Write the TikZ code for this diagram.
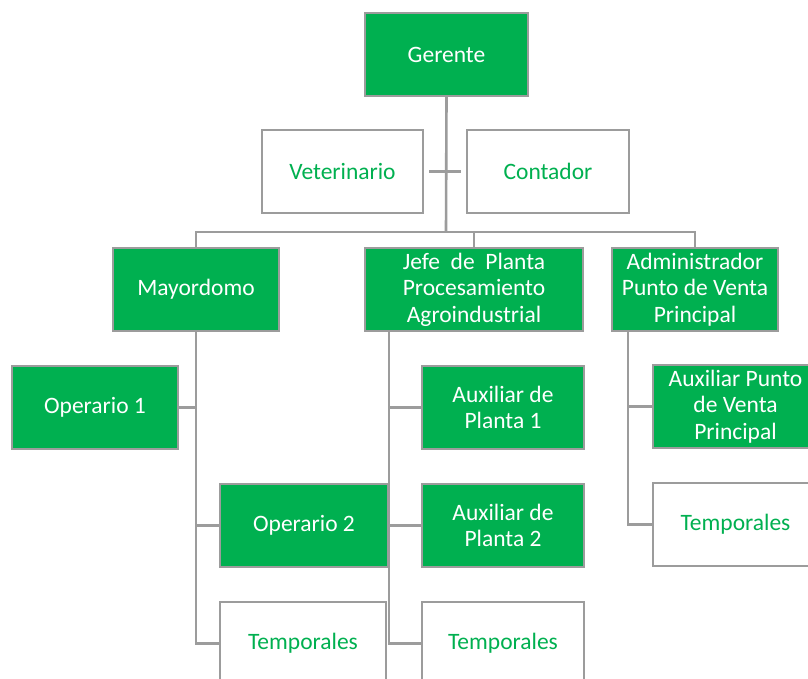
\documentclass[tikz,border=0pt]{standalone}
\usepackage{fontspec}
\setmainfont{Carlito}
\usetikzlibrary{calc}
\definecolor{orggreen}{HTML}{00B050}
\definecolor{orggray}{HTML}{9C9C9C}
\tikzset{
  unitbox/.style={draw=orggray, line width=2.4pt, inner sep=0pt, align=center,
    font=\fontsize{23.5}{26.5}\selectfont},
  greenbox/.style={unitbox, fill=orggreen, text=white},
  whitebox/.style={unitbox, fill=white, text=orggreen},
  link/.style={draw=orggray, line width=2.6pt},
}
\begin{document}
\begin{tikzpicture}[x=1pt,y=-1pt]
\clip (0,0) rectangle (808,679);
\fill[white] (0,0) rectangle (808,679);

% top level and staff positions
\node[greenbox, minimum width=163pt, minimum height=83pt] (ger) at (446.5,54.5) {Gerente};
\node[whitebox, minimum width=161pt, minimum height=83pt] (vet) at (342.5,171.5) {Veterinario};
\node[whitebox, minimum width=162pt, minimum height=83pt] (con) at (548,171.5) {Contador};

% second level
\node[greenbox, minimum width=166pt, minimum height=83pt] (may) at (196,289.5) {Mayordomo};
\node[greenbox, minimum width=218pt, minimum height=83pt] (jef) at (474,289.5) {Jefe\ \ de\ \ Planta\\Procesamiento\\Agroindustrial};
\node[greenbox, minimum width=166pt, minimum height=83pt] (adm) at (695,289.5) {Administrador\\Punto de Venta\\Principal};

% under Mayordomo
\node[greenbox, minimum width=166pt, minimum height=83pt] (op1) at (95,407.5) {Operario 1};
\node[greenbox, minimum width=168pt, minimum height=83pt] (op2) at (304,525.5) {Operario 2};
\node[whitebox, minimum width=166pt, minimum height=83pt] (tm1) at (303,643.5) {Temporales};

% under Jefe de Planta
\node[greenbox, minimum width=162pt, minimum height=83pt] (ax1) at (503,407.5) {Auxiliar de\\Planta 1};
\node[greenbox, minimum width=162pt, minimum height=83pt] (ax2) at (503,525.5) {Auxiliar de\\Planta 2};
\node[whitebox, minimum width=162pt, minimum height=83pt] (tm2) at (503,643.5) {Temporales};

% under Administrador
\node[greenbox, minimum width=165pt, minimum height=83pt] (axp) at (735.5,406.5) {Auxiliar Punto\\de Venta\\Principal};
\node[whitebox, minimum width=165pt, minimum height=83pt] (tm3) at (735.5,524.5) {Temporales};

% trunk from Gerente
\coordinate (hub) at (446,232);
\draw[link] (ger.south) -- (hub);
\draw[link] ($(vet.east)+(5,0)$) -- ($(con.west)+(-5,0)$);
\draw[link] (may.north) |- (hub) -| (adm.north);
\draw[link] (hub) -| (jef.north);

% Mayordomo branch
\coordinate (mt) at (196,643.5);
\draw[link] (may.south) -- (mt) -- (tm1.west);
\draw[link] (op1.east) -- (op1.east -| mt);
\draw[link] (op2.west -| mt) -- (op2.west);

% Jefe de Planta branch
\coordinate (jt) at (389,643.5);
\draw[link] (jef.south -| jt) -- (jt) -- (tm2.west);
\draw[link] (ax1.west -| jt) -- (ax1.west);
\draw[link] (ax2.west -| jt) -- (ax2.west);

% Administrador branch
\coordinate (at) at (628,524.5);
\draw[link] (adm.south -| at) -- (at) -- (tm3.west);
\draw[link] (axp.west -| at) -- (axp.west);
\end{tikzpicture}
\end{document}
